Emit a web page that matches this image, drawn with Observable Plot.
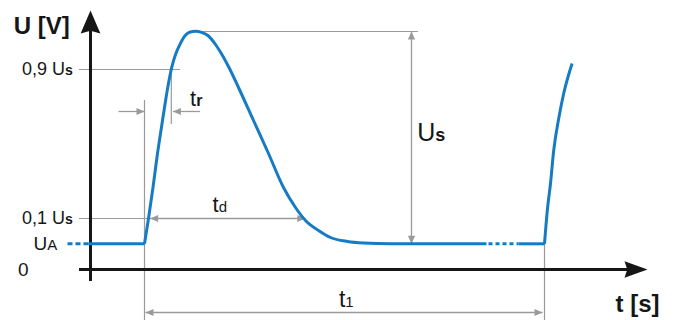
<!DOCTYPE html>
<html>
<head>
<meta charset="utf-8">
<script src="https://cdn.jsdelivr.net/npm/d3@7"></script>
<script src="https://cdn.jsdelivr.net/npm/@observablehq/plot@0.6"></script>
<style>
  html, body { margin: 0; padding: 0; background: #fff; }
  #chart svg { display: block; }
</style>
</head>
<body>
<div id="chart"></div>
<script>
// ---- values ----
// time in units where t1 = 100, voltage in arbitrary units (0 on the t axis)
const pulseT = [0, 1, 2.125, 3.25, 4.5, 5.825, 6.825, 7.825, 8.925, 10.175, 11.425, 12.75, 14.25, 16, 17.75, 19.25, 21.25, 23.5, 27.25, 31, 34.75, 37.75, 40.25, 43.5, 46.5, 50.75, 54.75, 61.5, 85.5];
const pulseU = [12.85, 25.5, 41, 58, 74.5, 91.15, 101.15, 107.85, 112.85, 117, 118.75, 119.15, 118.6, 116.75, 112.5, 107.85, 100.5, 91, 74.5, 58, 41, 31, 24.5, 19.5, 16, 14, 13.25, 12.9, 12.85];
const nextT = [100, 100.7, 101.5, 102.3, 103.6, 104.8, 106.9];
const nextU = [12.85, 29.5, 43, 59.5, 76, 88, 103];

// levels
const levelNames = ["0,9 U_s", "0,1 U_s", "U_A", "0"];
const levelU = [100, 25.5, 12.85, 0];
const UA = 12.85, U01 = 25.5, U09 = 100, Upeak = 119;

// characteristic times
const tStart = 0, t09 = 6.7, tdEnd = 40.2, t1 = 100;

// dimension labels and axis titles
const dimNames = ["t_r", "t_d", "t_1", "U_s"];
const axisTitles = ["U [V]", "t [s]"];

// ---- layout (in data units) ----
const levelLabelT = [-17.9, -17.9, -21.8, -29];
const levelLabelSize = [18, 18, 19, 19];
const dimLabelT = [11.4, 17, 48.6, 68.2];
const dimLabelU = [82, 28.65, -18.85, 64.5];
const dimLabelSize = [22, 22, 23, 25];
const axisTitleT = [-32.7, 117.75];
const axisTitleU = [117.85, -21.25];

const blue = "#157cc4";
const gray = "#9a9a9a";
const ink = "#161616";
const font = "'Liberation Sans', Arial, Helvetica, sans-serif";

const pulse = pulseT.map((t, i) => ({t, u: pulseU[i]}));
const next = nextT.map((t, i) => ({t, u: nextU[i]}));

// arrowhead symbol: tip at origin, pointing right before rotation
const head = (ratio, notch) => ({
  draw(ctx, size) {
    const L = Math.sqrt(size / Math.PI), W = L * ratio;
    ctx.moveTo(0, 0);
    ctx.lineTo(-L, -W);
    ctx.lineTo(-L * (1 - notch), 0);
    ctx.lineTo(-L, W);
    ctx.closePath();
  }
});
const angle = (a, b) => b.t > a.t ? 0 : b.t < a.t ? 180 : b.u > a.u ? -90 : 90;

// dimension arrows
const dims = [
  {a: {t: 66.75, u: UA}, b: {t: 66.75, u: Upeak}, both: true},
  {a: {t: 1.4, u: U01}, b: {t: tdEnd, u: U01}, both: true},
  {a: {t: tStart + 0.25, u: -21.5}, b: {t: t1 - 0.5, u: -21.5}, both: true},
  {a: {t: -6.5, u: 79}, b: {t: tStart, u: 79}, both: false},
  {a: {t: 13.9, u: 79}, b: {t: t09 + 0.4, u: 79}, both: false}
];
const heads = [];
for (const d of dims) {
  heads.push({...d.b, rot: angle(d.a, d.b)});
  if (d.both) heads.push({...d.a, rot: angle(d.b, d.a)});
}

const chart = Plot.plot({
  width: 676,
  height: 320,
  margin: 0,
  x: {domain: [-36, 133], axis: null},
  y: {domain: [-25.5, 134.5], axis: null},
  style: {fontFamily: font, background: "#fff", color: ink},
  marks: [
    // guide lines
    Plot.ruleY([U09], {x1: -16.25, x2: 9, stroke: gray, strokeWidth: 1.2}),
    Plot.ruleY([U01], {x1: -16.25, x2: 1, stroke: gray, strokeWidth: 1.2}),
    Plot.ruleY([Upeak], {x1: 12.75, x2: 68.5, stroke: gray, strokeWidth: 1.2}),
    Plot.ruleX([tStart], {y1: 84.5, y2: -25.5, stroke: gray, strokeWidth: 1.2}),
    Plot.ruleX([t09], {y1: 101, y2: 72.5, stroke: gray, strokeWidth: 1.2}),
    Plot.ruleX([t1], {y1: UA, y2: -25.5, stroke: gray, strokeWidth: 1.2}),
    // dimension arrows
    Plot.link(dims, {x1: d => d.a.t, y1: d => d.a.u, x2: d => d.b.t, y2: d => d.b.u, stroke: gray, strokeWidth: 1.3}),
    Plot.dot(heads, {x: "t", y: "u", rotate: "rot", r: 8, symbol: head(0.45, 0), fill: gray, stroke: "none"}),
    // axes
    Plot.ruleX([-13.5], {y1: -6, y2: 120, stroke: ink, strokeWidth: 3}),
    Plot.ruleY([0], {x1: -16.25, x2: 121, stroke: ink, strokeWidth: 3}),
    Plot.dot([{t: -13.5, u: 129.5}], {x: "t", y: "u", rotate: -90, r: 23, symbol: head(0.43, 0.12), fill: ink, stroke: "none"}),
    Plot.dot([{t: 125.75, u: 0}], {x: "t", y: "u", rotate: 0, r: 23, symbol: head(0.36, 0.12), fill: ink, stroke: "none"}),
    // signal
    Plot.line([{t: -19.25, u: UA}, {t: -14, u: UA}], {x: "t", y: "u", stroke: blue, strokeWidth: 3, strokeDasharray: "5,3", strokeLinecap: "butt"}),
    Plot.line([{t: -14, u: UA}, {t: tStart, u: UA}], {x: "t", y: "u", stroke: blue, strokeWidth: 3, strokeLinecap: "butt"}),
    Plot.line(pulse, {x: "t", y: "u", curve: "monotone-x", stroke: blue, strokeWidth: 3, strokeLinecap: "butt"}),
    Plot.line([{t: 86, u: UA}, {t: 93.5, u: UA}], {x: "t", y: "u", stroke: blue, strokeWidth: 3, strokeDasharray: "4,3", strokeLinecap: "butt"}),
    Plot.line([{t: 93.5, u: UA}, {t: t1, u: UA}], {x: "t", y: "u", stroke: blue, strokeWidth: 3, strokeLinecap: "butt"}),
    Plot.line(next, {x: "t", y: "u", curve: "monotone-x", stroke: blue, strokeWidth: 3, strokeLinecap: "butt"}),
    // labels
    Plot.text(levelNames, {x: (d, i) => levelLabelT[i], y: (d, i) => levelU[i], text: d => d, textAnchor: "end", lineAnchor: "middle", fontSize: (d, i) => levelLabelSize[i], fill: ink}),
    Plot.text(dimNames, {x: (d, i) => dimLabelT[i], y: (d, i) => dimLabelU[i], text: d => d, textAnchor: "start", lineAnchor: "bottom", fontSize: (d, i) => dimLabelSize[i], fill: ink}),
    Plot.text(axisTitles, {x: (d, i) => axisTitleT[i], y: (d, i) => axisTitleU[i], text: d => d, textAnchor: "start", lineAnchor: "bottom", fontSize: 24, fontWeight: "bold", fill: ink})
  ]
});

// subscripts: "main_sub" -> main + smaller tspan
const subFormat = {
  "0,9 U_s": [14, "bold"], "0,1 U_s": [14, "bold"], "U_A": [15, "normal"],
  "t_r": [16, "bold"], "t_d": [15, "normal"], "t_1": [15, "normal"], "U_s": [18, "bold"]
};
chart.querySelectorAll("text").forEach(el => {
  const s = el.textContent;
  const i = s.indexOf("_");
  if (i < 0) return;
  const [size, weight] = subFormat[s] || [12, "normal"];
  el.textContent = s.slice(0, i);
  const ts = document.createElementNS("http://www.w3.org/2000/svg", "tspan");
  ts.textContent = s.slice(i + 1);
  ts.setAttribute("font-size", size);
  ts.setAttribute("font-weight", weight);
  el.appendChild(ts);
});

document.getElementById("chart").appendChild(chart);
</script>
</body>
</html>
